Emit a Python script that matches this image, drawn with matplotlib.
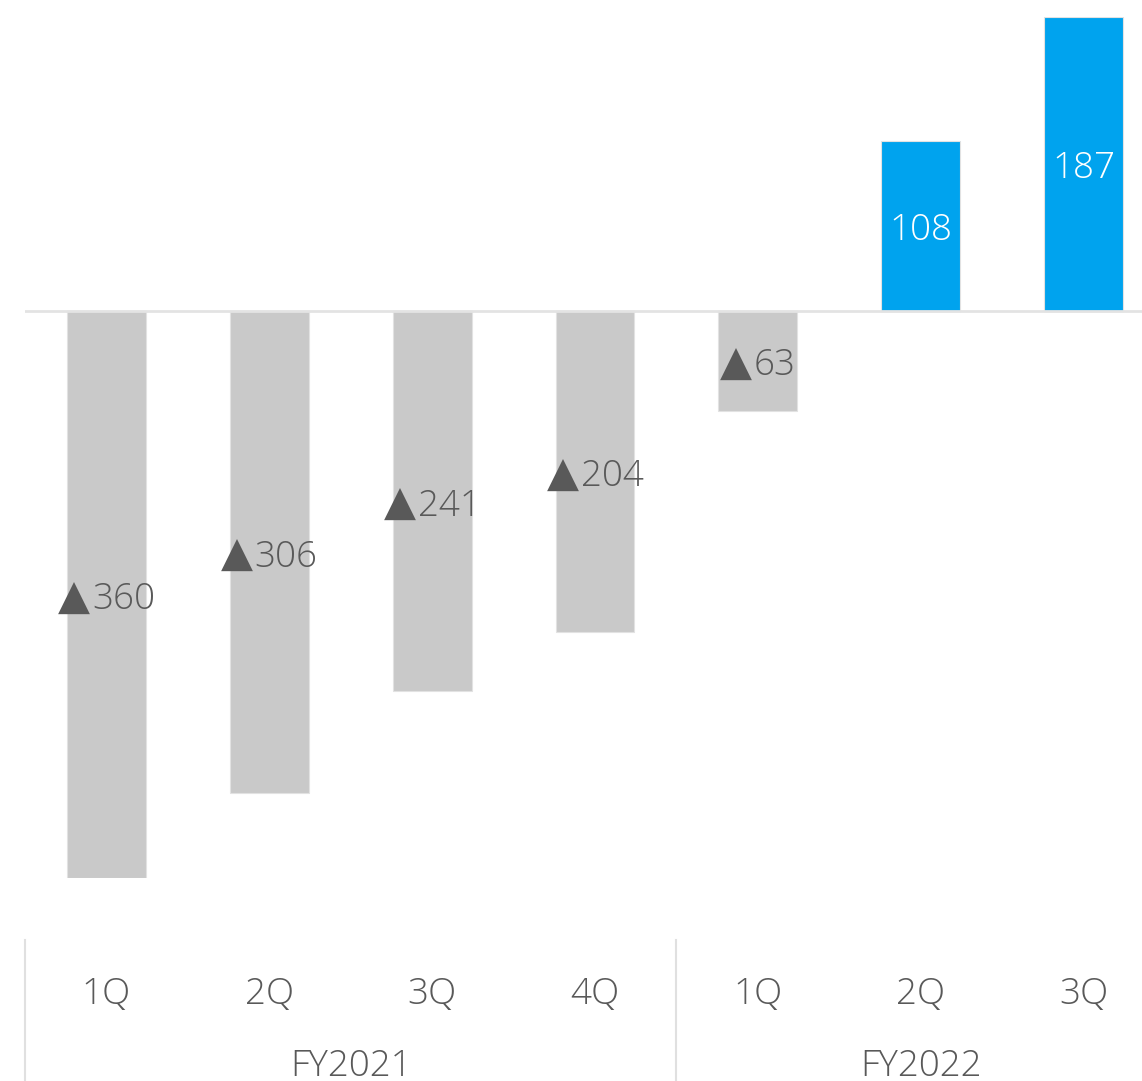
import numpy as np
import matplotlib.pyplot as plt
from matplotlib.transforms import blended_transform_factory, offset_copy

# dane
quarters = ['1Q', '2Q', '3Q', '4Q', '1Q', '2Q', '3Q']
years = ['FY2021', 'FY2022']
year_spans = [(0, 3), (4, 6)]
values = [-360, -306, -241, -204, -63, 108, 187]

GRAY = '#C9C9C9'
BLUE = '#00A3EE'
TXT = '#595959'
FONT = ['Open Sans', 'DejaVu Sans']
FS = 26.5

W, H = 1142, 1081
fig = plt.figure(figsize=(W / 100, H / 100), dpi=100)
# os x wychodzi poza prawa krawedz obrazka
ax = fig.add_axes([25 / W, 1 - 878 / H, 1140 / W, (878 - 17) / H])

x = np.arange(len(values))
colors = [GRAY if v < 0 else BLUE for v in values]
ax.bar(x, values, width=0.485, color=colors, edgecolor='#E2E2E2', linewidth=0.8)
ax.axhline(0, color='#E3E3E3', linewidth=2, zorder=3)

ax.set_xlim(-0.5, len(values) - 0.5)
ax.set_ylim(-360, 187)
ax.axis('off')

renderer = fig.canvas.get_renderer()
for xi, v in zip(x, values):
    if v > 0:
        ax.text(xi, v / 2, str(v), ha='center', va='center', fontsize=FS,
                color='white', family=FONT, fontweight='light',
                transform=offset_copy(ax.transData, fig=fig, x=0, y=-4, units='dots'))
        continue
    # trojkat (ujemne) osobno - lekki krój nie ma znaku ▲
    tri = ax.text(xi, v / 2, '\u25B2', ha='left', va='center', fontsize=30,
                  color=TXT, family='DejaVu Sans')
    num = ax.text(xi, v / 2, str(abs(v)), ha='left', va='center', fontsize=FS,
                  color=TXT, family=FONT, fontweight='light')
    w1 = tri.get_window_extent(renderer).width
    w2 = num.get_window_extent(renderer).width
    tot = w1 + w2 + 2
    tri.set_transform(offset_copy(ax.transData, fig=fig, x=-tot / 2, y=-3, units='dots'))
    num.set_transform(offset_copy(ax.transData, fig=fig, x=-tot / 2 + w1 + 2, y=-5, units='dots'))

# os kategorii na dole
tr = blended_transform_factory(ax.transData, fig.transFigure)
for xi, q in zip(x, quarters):
    ax.text(xi, 1 - 994 / H, q, transform=tr, ha='center', va='center',
            fontsize=FS, color=TXT, family=FONT, fontweight='light')
for name, (a, b) in zip(years, year_spans):
    ax.text((a + b) / 2, 1 - 1066 / H, name, transform=tr, ha='center',
            va='center', fontsize=FS, color=TXT, family=FONT, fontweight='light')

for sep in [-0.5, 3.5, 6.5]:
    ax.plot([sep, sep], [0, 1 - 940 / H], transform=tr, color='#E0E0E0',
            linewidth=1.5, clip_on=False)

fig.savefig('out.png', dpi=100)
